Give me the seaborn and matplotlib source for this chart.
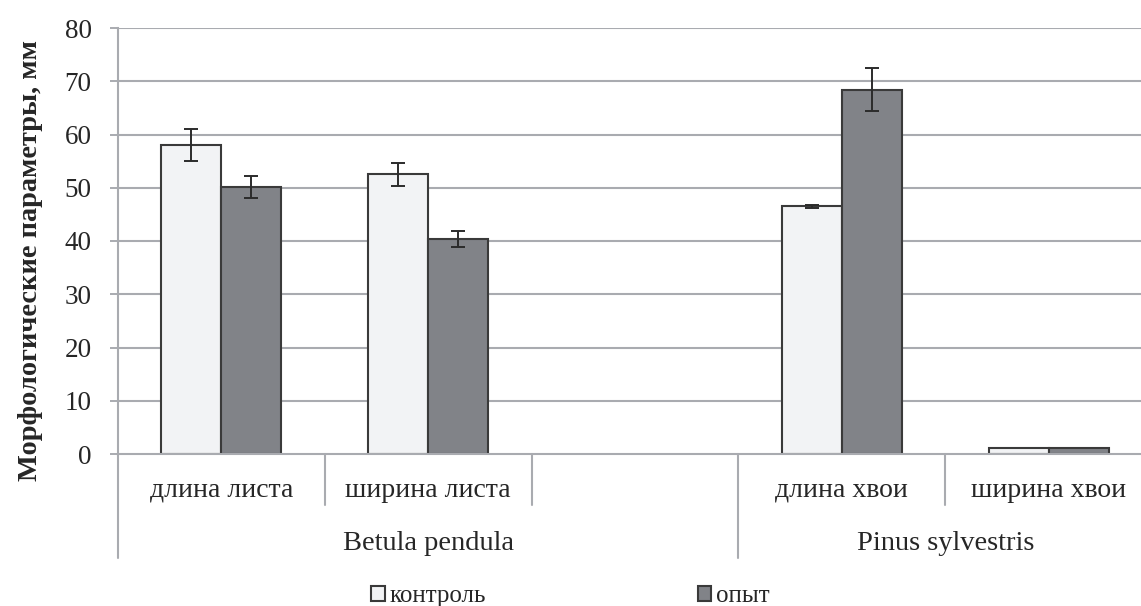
import pandas as pd
import seaborn as sns
import matplotlib.pyplot as plt

# data
slots = ["длина листа", "ширина листа", " ", "длина хвои", "ширина хвои"]
categories = ["длина листа", "ширина листа", "длина хвои", "ширина хвои"]
control = [58.0, 52.5, 46.5, 1.2]
control_err = [3.0, 2.2, 0.3, 0.0]
experiment = [50.1, 40.4, 68.4, 1.2]
experiment_err = [2.1, 1.5, 4.0, 0.0]
groups = ["Betula pendula", "Pinus sylvestris"]
series = ["контроль", "опыт"]

df = pd.DataFrame({
    "cat": categories * 2,
    "val": control + experiment,
    "series": [series[0]] * 4 + [series[1]] * 4,
})
errs = {series[0]: control_err, series[1]: experiment_err}

sns.set_style("white")
plt.rcParams["font.family"] = ["Liberation Serif", "DejaVu Serif"]

fig = plt.figure(figsize=(11.41, 6.06), dpi=100)
ax = fig.add_axes([118 / 1141, 1 - 454 / 606, 1034 / 1141, 426 / 606])

grey = "#a9abb0"
for v in range(10, 90, 10):
    ax.axhline(v, color=grey, lw=1.5, zorder=0)

sns.barplot(data=df, x="cat", y="val", hue="series", order=slots,
            hue_order=series, palette=["#f2f3f5", "#808389"],
            width=0.58, edgecolor="#3a3a3a", linewidth=1.5,
            errorbar=None, ax=ax, zorder=2, legend=True)

# error bars placed on the seaborn bars
for cont, name in zip(ax.containers, series):
    for bar, e in zip(cont, errs[name]):
        if e > 0:
            ax.errorbar(bar.get_x() + bar.get_width() / 2, bar.get_height(), yerr=e,
                        fmt="none", ecolor="#2b2b2b", elinewidth=1.4,
                        capsize=4.7, capthick=1.4, zorder=3)

ax.set_ylim(0, 80)
ax.set_xlim(-0.5, 4.5)
ax.set_yticks(range(0, 90, 10))
ax.tick_params(axis="y", length=6, width=1.4, color=grey, labelsize=19.5, pad=13,
               left=True)
ax.tick_params(axis="x", length=0, labelsize=20, pad=17)
for s in ["top", "right"]:
    ax.spines[s].set_visible(False)
ax.spines["left"].set_color(grey)
ax.spines["left"].set_linewidth(1.5)
ax.spines["bottom"].set_color(grey)
ax.spines["bottom"].set_linewidth(1.5)

ax.set_xlabel("")
ax.set_ylabel("Морфологические параметры, мм", fontsize=20.4, fontweight="bold")
ax.yaxis.set_label_coords(-0.073, 0.455)

# multi-level category axis lines
tr = ax.get_xaxis_transform()
for b in [0.5, 1.5, 3.5]:
    ax.plot([b, b], [0, -0.12], color=grey, lw=1.5, transform=tr, clip_on=False)
for b in [-0.5, 2.5]:
    ax.plot([b, b], [0, -0.245], color=grey, lw=1.5, transform=tr, clip_on=False)
ax.text(1.0, -0.21, groups[0], transform=tr, ha="center", va="center", fontsize=20.5)
ax.text(3.5, -0.21, groups[1], transform=tr, ha="center", va="center", fontsize=20.5)

handles, labels = ax.get_legend_handles_labels()
ax.get_legend().remove()
fig.legend(handles, labels, loc="center", bbox_to_anchor=(0.5, 1 - 596 / 606),
           ncol=2, frameon=False, fontsize=18, handlelength=0.55, handleheight=0.55,
           handletextpad=0.2, columnspacing=8.45)

fig.savefig("out.png", dpi=100)
